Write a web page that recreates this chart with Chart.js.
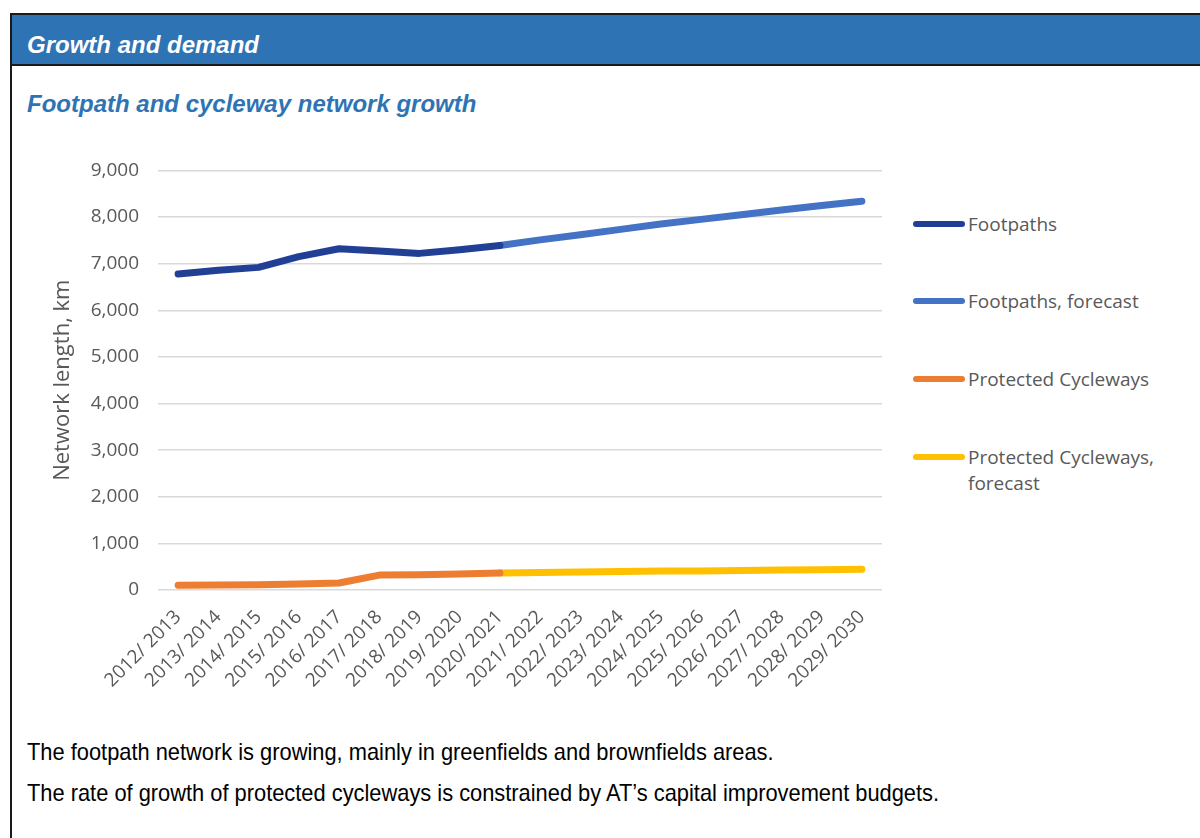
<!DOCTYPE html>
<html><head><meta charset="utf-8">
<script src="https://cdn.jsdelivr.net/npm/chart.js@4.4.1/dist/chart.umd.min.js"></script>
<style>
html,body{margin:0;padding:0;background:#fff;width:1200px;height:838px;overflow:hidden;position:relative;}
#frameL{position:absolute;left:10px;top:13px;width:2px;height:830px;background:#1a1a1a;}
#frameT{position:absolute;left:10px;top:13px;width:1200px;height:2px;background:#1a1a1a;}
#hdr{position:absolute;left:12px;top:15px;width:1200px;height:49px;background:#2E74B5;border-bottom:2px solid #1a1a1a;}
.h{position:absolute;font-family:'Liberation Sans',Arial,sans-serif;font-weight:bold;font-style:italic;font-size:24px;line-height:24px;white-space:nowrap;}
.b{position:absolute;left:27px;font-family:'Liberation Sans',Arial,sans-serif;font-size:24px;line-height:24px;color:#000;white-space:nowrap;transform:scaleX(0.91);transform-origin:0 0;}
#chartWrap{position:absolute;left:20px;top:140px;width:880px;height:570px;}
.lg{position:absolute;left:913px;height:20px;display:flex;align-items:center;font-family:'Open Sans',sans-serif;font-size:19px;color:#595959;white-space:nowrap;}
.sw{display:inline-block;width:52px;height:6px;border-radius:3px;margin-right:3px;}
</style></head>
<body>
<div id="frameT"></div><div id="frameL"></div>
<div id="hdr"></div>
<div class="h" style="left:27px;top:33px;color:#fff;">Growth and demand</div>
<div class="h" style="left:27px;top:92px;color:#2E74B5;">Footpath and cycleway network growth</div>
<div id="chartWrap"><canvas id="c" width="880" height="570"></canvas></div>
<div id="legend"></div>
<div class="b" style="top:740px;">The footpath network is growing, mainly in greenfields and brownfields areas.</div>
<div class="b" style="top:781px;">The rate of growth of protected cycleways is constrained by AT’s capital improvement budgets.</div>
<script>
const categories = ["2012/ 2013","2013/ 2014","2014/ 2015","2015/ 2016","2016/ 2017","2017/ 2018","2018/ 2019","2019/ 2020","2020/ 2021","2021/ 2022","2022/ 2023","2023/ 2024","2024/ 2025","2025/ 2026","2026/ 2027","2027/ 2028","2028/ 2029","2029/ 2030"];
// actual: 2012/2013 .. 2020/2021
const footpathsActual = [6780, 6860, 6920, 7150, 7320, 7270, 7220, 7300, 7390];
// forecast: 2020/2021 .. 2029/2030
const footpathsForecast = [7390, 7510, 7620, 7735, 7850, 7950, 8050, 8150, 8245, 8340];
const cyclewaysActual = [100, 105, 110, 130, 150, 320, 325, 345, 365];
const cyclewaysForecast = [365, 375, 385, 395, 405, 410, 420, 430, 435, 445];
const yTicks = [0,1000,2000,3000,4000,5000,6000,7000,8000,9000];

const seriesNames = ["Footpaths","Footpaths, forecast","Protected Cycleways","Protected Cycleways, forecast"];
const seriesColors = ["#213F95","#4472C4","#ED7D31","#FFC000"];

const forecastStart = categories.length - footpathsForecast.length;
function padActual(a){ return categories.map((c,i)=> i < a.length ? a[i] : null); }
function padForecast(a){ return categories.map((c,i)=> i >= forecastStart ? a[i-forecastStart] : null); }

const dataArrays = [padActual(footpathsActual), padForecast(footpathsForecast), padActual(cyclewaysActual), padForecast(cyclewaysForecast)];

Chart.defaults.font.family = "'Open Sans', sans-serif";
Chart.defaults.color = "#595959";

new Chart(document.getElementById('c'), {
  type: 'line',
  data: {
    labels: categories,
    datasets: dataArrays.map((d,i)=>({
      label: seriesNames[i],
      data: d,
      borderColor: seriesColors[i],
      backgroundColor: seriesColors[i],
      borderWidth: 7,
      pointRadius: 0,
      tension: 0,
      borderCapStyle: 'round',
      borderJoinStyle: 'round',
      spanGaps: false
    }))
  },
  options: {
    responsive: false,
    animation: false,
    layout: { padding: { top: 28, right: 18, left: 0, bottom: 0 } },
    plugins: { legend: { display: false }, tooltip: { enabled: false } },
    scales: {
      x: {
        offset: true,
        grid: { display: false, drawTicks: false },
        border: { display: false },
        ticks: { autoSkip: false, minRotation: 45, maxRotation: 45, padding: 16, font: { size: 19 }, color: '#595959' },
        afterFit: s => { s.height = 120; }
      },
      y: {
        min: 0, max: 9000,
        afterBuildTicks: s => { s.ticks = yTicks.map(v => ({ value: v })); },
        grid: { color: '#d9d9d9', lineWidth: 1.5, drawTicks: false },
        border: { display: false },
        ticks: { padding: 19, font: { size: 19 }, color: '#595959',
                 callback: v => v.toLocaleString('en-US') },
        title: { display: true, text: 'Network length, km', font: { size: 22 }, color: '#595959', padding: { top: 30, bottom: 0 } },
        afterFit: s => { s.width = 138; }
      }
    }
  }
});

// legend
const legendY = [224, 301, 379, 457];
const lg = document.getElementById('legend');
seriesNames.forEach((n,i)=>{
  const d = document.createElement('div');
  d.className = 'lg';
  d.style.top = (legendY[i]-10) + 'px';
  const sw = document.createElement('span');
  sw.className = 'sw'; sw.style.background = seriesColors[i];
  d.appendChild(sw);
  const t = document.createElement('span');
  t.textContent = (i === 3) ? 'Protected Cycleways,' : n;
  d.appendChild(t);
  lg.appendChild(d);
});
const extra = document.createElement('div');
extra.className = 'lg';
extra.style.left = '968px';
extra.style.top = (483-10)+'px';
extra.textContent = 'forecast';
lg.appendChild(extra);
</script>
</body></html>
